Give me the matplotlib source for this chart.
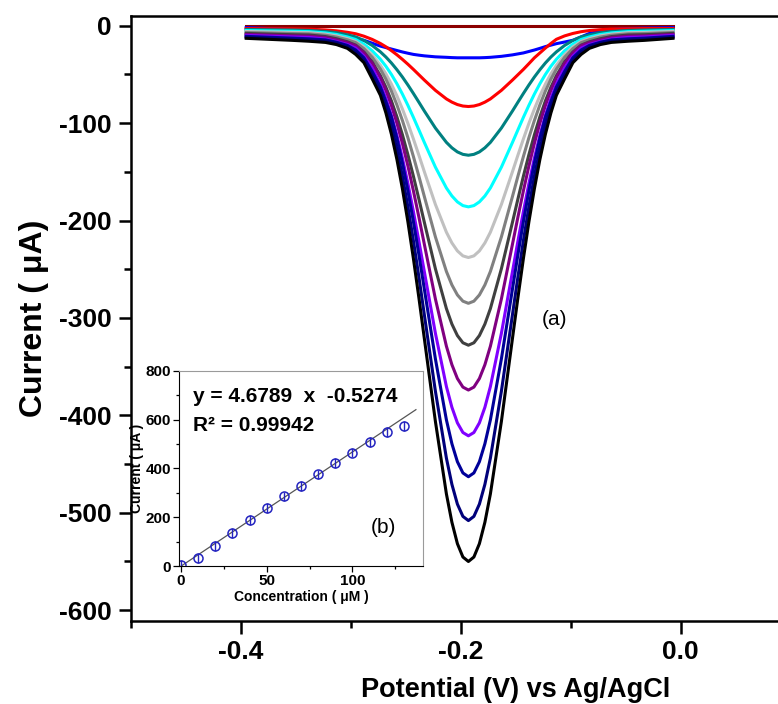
import matplotlib
matplotlib.use("Agg")
import matplotlib.pyplot as plt
from matplotlib.ticker import MultipleLocator, FixedLocator

plt.rcParams['font.family'] = ['Liberation Sans', 'DejaVu Sans']
plt.rcParams['font.weight'] = 'bold'
plt.rcParams['axes.labelweight'] = 'bold'
plt.rcParams['axes.unicode_minus'] = False

# DPV curves (potential in V, current in uA)
potential = [-0.395, -0.353, -0.338, -0.323, -0.313, -0.303, -0.2955, -0.288, -0.2805, -0.273,
             -0.268, -0.263, -0.258, -0.253, -0.248, -0.243, -0.238, -0.233, -0.223, -0.213,
             -0.208, -0.203, -0.198, -0.193,
             -0.188, -0.183, -0.178, -0.173, -0.163, -0.153, -0.148, -0.143, -0.138, -0.133,
             -0.128, -0.123, -0.118, -0.113, -0.1055, -0.098, -0.0905, -0.083, -0.073, -0.063,
             -0.048, -0.033, -0.007]

# the peaks are symmetric: left half (up to the peak) is read, right half mirrors it
def mirror(half):
    return half + half[-2::-1]

i_0 = [-0.5] * len(potential)
i_10 = [-2, -4, -6, -8, -10, -12, -13.5, -15, -18, -21, -22.5, -24, -25.5, -27, -28.3, -29.5,
        -30.3, -31, -32, -32.5, -32.8, -33, -33, -33,
        -33, -33, -32.8, -32.5, -31.5, -30, -29, -28, -26.5, -25, -23.3, -21.5, -20, -18.5,
        -16.8, -15, -11.5, -8, -5.5, -4, -3, -2.5, -2]
i_20 = [-3, -3.3, -3.6, -4.4, -5.3, -6.8, -8.3, -10.8, -14.1, -18.3, -21.7, -25.6, -29.9, -34.6,
        -39.6, -44.9, -50.4, -55.9, -66.4, -75.2, -78.5, -81.0, -82.5, -83,
        -82.5, -81.0, -78.5, -75.2, -66.4, -55.9, -50.4, -44.9, -39.0, -33.0, -28.0, -23.0,
        -18.3, -14.0, -10.5, -8.0, -6.2, -5.0, -4.1, -3.5, -3.2, -3.0, -3.0]
i_30 = mirror([-4, -4.5, -4.9, -6.0, -7.2, -9.4, -11.5, -15.2, -20.3, -26.9, -32.2, -38.3, -45.2,
               -52.7, -60.9, -69.6, -78.6, -87.7, -105.1, -119.8, -125.4, -129.6, -132.1, -133])
i_40 = mirror([-5, -5.7, -6.1, -7.4, -9.0, -11.6, -14.2, -19.0, -25.7, -34.5, -41.7, -50.1, -59.6,
               -70.2, -81.8, -94.1, -107.0, -120.0, -145.2, -166.6, -174.8, -180.9, -184.7, -186])
i_50 = mirror([-6, -6.9, -7.2, -8.7, -10.4, -13.3, -16.2, -21.8, -29.8, -40.6, -49.5, -60.0, -72.0,
               -85.5, -100.3, -116.3, -133.0, -150.1, -183.5, -212.0, -223.0, -231.2, -236.3, -238])
i_60 = mirror([-7, -8.1, -8.4, -9.8, -11.7, -14.5, -17.4, -23.6, -32.4, -44.6, -54.9, -67.1, -81.3,
               -97.3, -115.0, -134.3, -154.6, -175.6, -216.8, -252.3, -266.1, -276.4, -282.8, -285])
i_70 = mirror([-8, -9.3, -9.6, -11.2, -13.4, -16.6, -20.0, -27.1, -37.2, -51.3, -63.2, -77.2, -93.5,
               -111.9, -132.4, -154.5, -178.0, -202.1, -249.5, -290.4, -306.3, -318.1, -325.5, -328])
i_80 = mirror([-9, -10.5, -10.8, -12.2, -14.5, -17.3, -20.5, -27.8, -38.5, -53.5, -66.5, -81.9, -100.0,
               -120.8, -144.0, -169.5, -196.6, -224.7, -280.5, -329.0, -348.0, -362.2, -371.0, -374])
i_90 = mirror([-10, -11.6, -12.1, -13.7, -16.2, -19.3, -23.0, -31.2, -43.2, -60.1, -74.7, -92.1, -112.5,
               -135.8, -162.0, -190.7, -221.2, -252.9, -315.7, -370.4, -391.7, -407.7, -417.6, -421])
i_100 = mirror([-11, -12.8, -13.5, -14.6, -17.0, -20.3, -25.0, -33.0, -47.0, -63.0, -78.0, -93.9, -115.6,
                -141.0, -169.6, -201.2, -235.2, -270.8, -342.0, -404.6, -429.1, -447.6, -459.1, -463])
i_110 = mirror([-12, -14.0, -14.7, -15.9, -18.0, -21.5, -27.0, -35.5, -51.0, -67.0, -84.0, -102.9, -126.8,
                -154.6, -186.0, -220.7, -258.0, -297.1, -375.2, -443.9, -470.8, -491.1, -503.7, -508])
i_120 = mirror([-13, -15.1, -16.0, -17.2, -19.4, -23.3, -29.5, -38.0, -54.5, -71.5, -89.6, -111.4, -137.3,
                -167.4, -201.4, -239.0, -279.4, -321.6, -406.2, -480.6, -509.7, -531.7, -545.4, -550])

curves = [i_0, i_10, i_20, i_30, i_40, i_50, i_60, i_70, i_80, i_90, i_100, i_110, i_120]
colors = ['#8B0000', '#0000FF', '#FF0000', '#008080', '#00FFFF', '#C0C0C0', '#808080',
          '#404040', '#800080', '#8000FF', '#000099', '#00007A', '#000000']

x_major = [-0.4, -0.2, 0.0]
x_minor = [-0.5, -0.3, -0.1]

# calibration inset
conc = [0, 10, 20, 30, 40, 50, 60, 70, 80, 90, 100, 110, 120, 130]
peak_current = [3, 32, 83, 134, 187, 239, 285, 328, 375, 421, 465, 508, 550, 575]
peak_err = [20] * len(conc)
slope = 4.6789
intercept = -0.5274
fit_x = [0, 137]

fig = plt.figure(figsize=(7.78, 7.04), dpi=100)
ax = fig.add_axes([0.168, 0.118, 0.9897, 0.8594])
for y, c in zip(curves, colors):
    ax.plot(potential, y, color=c, lw=2.2)

ax.set_xlim(-0.5, 0.2)
ax.set_ylim(-611, 10)
ax.xaxis.set_major_locator(FixedLocator(x_major))
ax.xaxis.set_minor_locator(FixedLocator(x_minor))
ax.yaxis.set_major_locator(MultipleLocator(100))
ax.yaxis.set_minor_locator(MultipleLocator(50))
ax.tick_params(which='both', direction='out', width=1.8, labelsize=19)
ax.tick_params(which='major', length=9, pad=5)
ax.tick_params(which='minor', length=5)
for s in ax.spines.values():
    s.set_linewidth(1.8)
ax.set_xlabel('Potential (V) vs Ag/AgCl', fontsize=19.5, labelpad=9)
ax.set_ylabel('Current ( \u03bcA)', fontsize=23, labelpad=7)
ax.text(-0.115, -302, '(a)', fontsize=15, fontweight='normal', ha='center', va='center')

ax2 = fig.add_axes([0.2305, 0.196, 0.3129, 0.2774])
ax2.plot(fit_x, [slope * v + intercept for v in fit_x], color='#555555', lw=0.9)
ax2.errorbar(conc, peak_current, yerr=peak_err, fmt='o', mfc='none', mec='#2424C0',
             ecolor='#2424C0', ms=6.5, mew=1.1, elinewidth=1.0, capsize=0)
ax2.set_xlim(-1, 141)
ax2.set_ylim(0, 800)
ax2.xaxis.set_major_locator(MultipleLocator(50))
ax2.xaxis.set_minor_locator(MultipleLocator(25))
ax2.yaxis.set_major_locator(MultipleLocator(200))
ax2.yaxis.set_minor_locator(MultipleLocator(100))
ax2.tick_params(which='both', direction='out', width=0.9, labelsize=11, pad=2)
ax2.tick_params(which='major', length=4)
ax2.tick_params(which='minor', length=2.5)
ax2.spines['top'].set_color('#9a9a9a')
ax2.spines['right'].set_color('#9a9a9a')
ax2.set_xlabel('Concentration ( \u03bcM )', fontsize=10, labelpad=1)
ax2.set_ylabel('Current ( \u03bcA )', fontsize=10, labelpad=1)
ax2.text(0.058, 0.84, 'y = 4.6789  x  -0.5274', transform=ax2.transAxes, fontsize=15, va='baseline')
ax2.text(0.058, 0.69, 'R\u00b2 = 0.99942', transform=ax2.transAxes, fontsize=15, va='baseline')
ax2.text(0.839, 0.195, '(b)', transform=ax2.transAxes, fontsize=15, fontweight='normal',
         ha='center', va='center')

fig.savefig('out.png', dpi=100)
